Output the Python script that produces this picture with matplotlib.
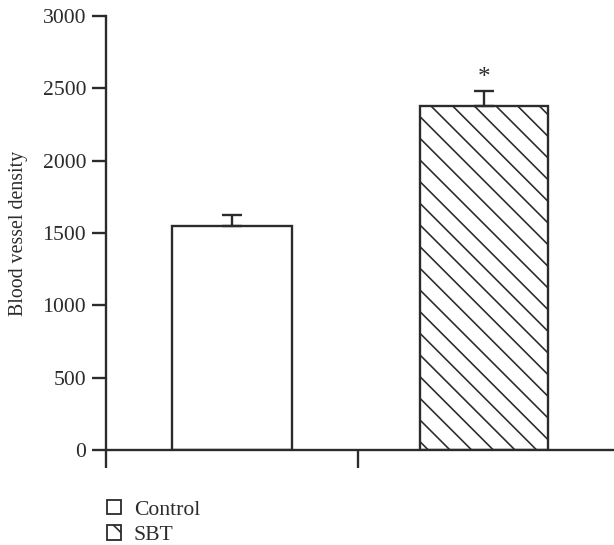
import matplotlib.pyplot as plt
from matplotlib.patches import Patch

groups = ['Control', 'SBT']
density = [1546, 2377]
sem = [80, 103]
hatches = ['', '\\\\']
marks = ['', '*']

plt.rcParams['font.family'] = ['Liberation Serif', 'DejaVu Serif']
plt.rcParams['hatch.linewidth'] = 0.9
ink = '#2b2b2b'

fig = plt.figure(figsize=(614 / 130, 545 / 130), dpi=130)
ax = fig.add_axes([106 / 614, 95 / 545, 510 / 614, 434 / 545])

xpos = [0.5, 1.5]
ax.bar(xpos, density, width=[0.48, 0.51], color='white', edgecolor=ink,
       linewidth=1.3, hatch=hatches, zorder=2)
ax.errorbar(xpos, density, yerr=[[0, 0], sem], fmt='none', ecolor=ink,
            elinewidth=1.3, capsize=5.5, capthick=1.3, zorder=3)
for x, v, e, m in zip(xpos, density, sem, marks):
    if m:
        ax.text(x, v + e + 15, m, ha='center', va='bottom', fontsize=14, color=ink)

ax.set_xlim(0, 2.024)
ax.set_ylim(0, 3000)
ax.set_yticks([0, 500, 1000, 1500, 2000, 2500, 3000])
ax.set_xticks([0, 1])
ax.set_xticklabels([])
ax.set_ylabel('Blood vessel density', fontsize=11, color=ink, labelpad=8)
for s in ['top', 'right']:
    ax.spines[s].set_visible(False)
for s in ['left', 'bottom']:
    ax.spines[s].set_color(ink)
    ax.spines[s].set_linewidth(1.3)
ax.tick_params(axis='y', length=8, width=1.3, color=ink, labelsize=12,
               labelcolor=ink, pad=3)
ax.tick_params(axis='x', length=10, width=1.3, color=ink)

handles = [Patch(facecolor='white', edgecolor=ink, hatch=h, linewidth=1.0) for h in hatches]
fig.legend(handles, groups, loc='upper left', bbox_to_anchor=(96 / 614, 1 - 489 / 545),
           frameon=False, fontsize=12, handlelength=0.65, handleheight=0.65,
           handletextpad=0.6, labelspacing=0.25, borderpad=0, labelcolor=ink)

fig.savefig('out.png', dpi=130)
